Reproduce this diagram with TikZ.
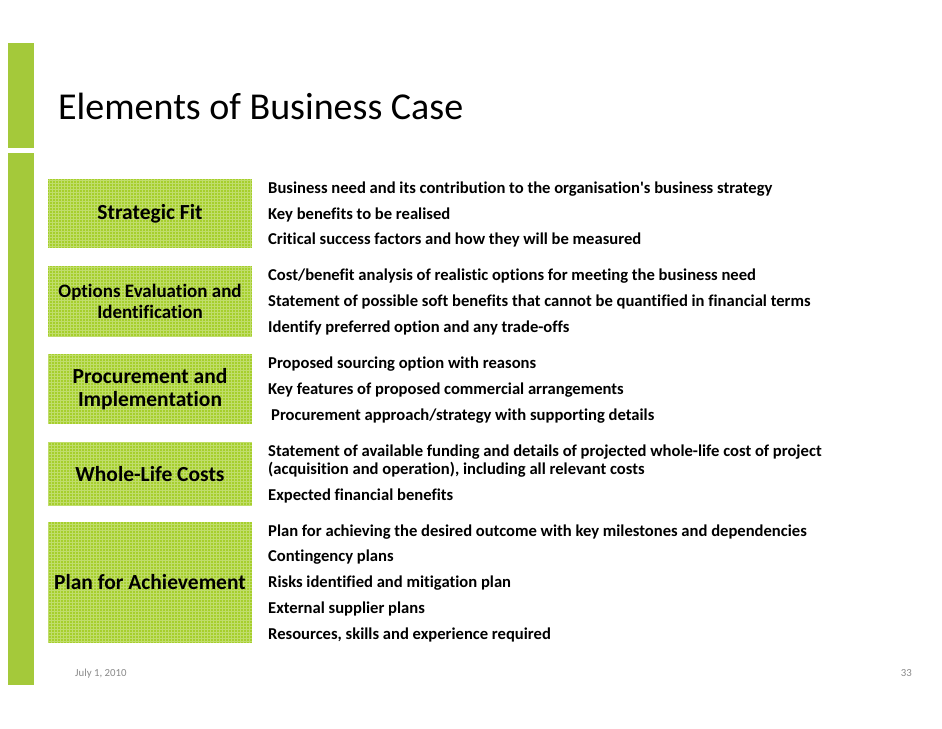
\documentclass[tikz,border=0pt]{standalone}
\usepackage{fontspec}
\setmainfont{Carlito}[Ligatures={NoCommon}]
\definecolor{barGreen}{HTML}{A4C93A}
\definecolor{boxGreen}{HTML}{A6CF2C}
\definecolor{footGrey}{HTML}{8A8A8A}

\begin{document}
\begin{tikzpicture}[x=1pt, y=-1pt,
    box/.style={fill=boxGreen, draw=none, minimum width=204pt, inner sep=0pt,
        align=center, font=\bfseries\fontsize{21.5}{23}\selectfont,
        path picture={\draw[white, opacity=0.3, step=3pt, line width=0.8pt]
            (path picture bounding box.south west) grid (path picture bounding box.north east);}},
    item/.style={anchor=base west, inner sep=0pt, font=\bfseries\fontsize{16.6}{18}\selectfont},
    foot/.style={anchor=base west, inner sep=0pt, text=footGrey, font=\fontsize{10.8}{12}\selectfont}
]
    \useasboundingbox[fill=white] (0,0) rectangle (942,728);
    % side bars
    \fill[barGreen] (8,43) rectangle (34,148);
    \fill[barGreen] (8,153) rectangle (34,685);
    \node[anchor=base west, inner sep=0pt, font=\fontsize{38}{42}\selectfont] (title) at (58,119) {Elements of Business Case};

    % left boxes
    \node[box, minimum height=69pt] (fit) at (150,213.5) {Strategic Fit};
    \node[box, minimum height=71pt, font=\bfseries\fontsize{19}{21}\selectfont] (options) at (150,301.5) {Options Evaluation and\\Identification};
    \node[box, minimum height=70pt] (proc) at (150,389) {Procurement and\\Implementation};
    \node[box, minimum height=64pt] (cost) at (150,474) {Whole-Life Costs};
    \node[box, minimum height=121pt] (plan) at (150,582.5) {Plan for Achievement};

    % items
    \node[item] (fit1) at (268,193.5) {Business need and its contribution to the organisation\textquotesingle s business strategy};
    \node[item] (fit2) at (268,219.5) {Key benefits to be realised};
    \node[item] (fit3) at (268,244.5) {Critical success factors and how they will be measured};
    \node[item] (opt1) at (268,280.5) {Cost/benefit analysis of realistic options for meeting the business need};
    \node[item] (opt2) at (268,306.5) {Statement of possible soft benefits that cannot be quantified in financial terms};
    \node[item] (opt3) at (268,332.5) {Identify preferred option and any trade-offs};
    \node[item] (proc1) at (268,368.5) {Proposed sourcing option with reasons};
    \node[item] (proc2) at (268,394.5) {Key features of proposed commercial arrangements};
    \node[item] (proc3) at (271,420.5) {Procurement approach/strategy with supporting details};
    \node[item] (cost1) at (268,456.5) {Statement of available funding and details of projected whole-life cost of project};
    \node[item] (cost2) at (268,474.5) {(acquisition and operation), including all relevant costs};
    \node[item] (cost3) at (268,500.5) {Expected financial benefits};
    \node[item] (plan1) at (268,536.5) {Plan for achieving the desired outcome with key milestones and dependencies};
    \node[item] (plan2) at (268,561.5) {Contingency plans};
    \node[item] (plan3) at (268,587.5) {Risks identified and mitigation plan};
    \node[item] (plan4) at (268,613.5) {External supplier plans};
    \node[item] (plan5) at (268,639.5) {Resources, skills and experience required};

    % footer
    \node[foot] (date) at (75,676) {July 1, 2010};
    \node[foot, anchor=base east] (page) at (912,676) {33};
\end{tikzpicture}
\end{document}
